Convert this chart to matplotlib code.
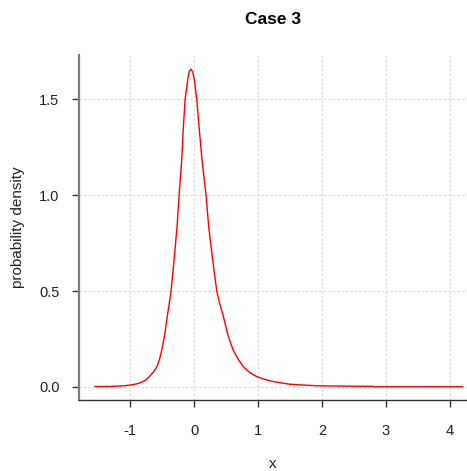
import matplotlib
matplotlib.use('Agg')
import matplotlib.pyplot as plt

# density curve
x_vals = [-1.55, -1.30, -1.10, -1.00, -0.90, -0.84, -0.76, -0.70, -0.64, -0.58,
          -0.54, -0.505, -0.46, -0.42, -0.39, -0.36, -0.313, -0.266, -0.234, -0.193,
          -0.167, -0.14, -0.099, -0.075, -0.047, -0.02, 0.005, 0.042, 0.078, 0.125,
          0.1875, 0.229, 0.292, 0.355, 0.40, 0.46, 0.53, 0.61, 0.69,
          0.77, 0.87, 0.98, 1.10, 1.24, 1.50, 1.92, 2.40, 2.80, 2.82,
          3.50, 4.20]
y_vals = [0.002, 0.003, 0.006, 0.010, 0.016, 0.022, 0.035, 0.054, 0.076, 0.106,
          0.145, 0.193, 0.27, 0.366, 0.43, 0.50, 0.661, 0.835, 1.0, 1.182,
          1.356, 1.50, 1.60, 1.645, 1.656, 1.64, 1.60, 1.50, 1.356, 1.182,
          1.0, 0.835, 0.661, 0.50, 0.435, 0.366, 0.27, 0.193, 0.145,
          0.106, 0.075, 0.054, 0.040, 0.028, 0.014, 0.006, 0.004, 0.003, 0.001,
          0.001, 0.001]

x_ticks = [-1, 0, 1, 2, 3, 4]
y_ticks = [0.0, 0.5, 1.0, 1.5]

plt.rcParams['font.family'] = ['Liberation Sans', 'DejaVu Sans']

fig = plt.figure(figsize=(4.67, 4.71), dpi=100)
ax = fig.add_axes([79/467, 1 - 400/471, 1 - 79/467, (400 - 55)/471])

ax.plot(x_vals, y_vals, color='red', linewidth=1.0)

ax.set_xlim(-1.80, 4.27)
ax.set_ylim(-0.068, 1.73)
ax.set_xticks(x_ticks)
ax.set_yticks(y_ticks)
ax.set_xticklabels([str(t) for t in x_ticks])
ax.set_yticklabels(['%.1f' % t for t in y_ticks])

ax.grid(True, color='#d9d9d9', linestyle=(0, (2, 2)), linewidth=0.8)
ax.set_axisbelow(True)

for s in ['top', 'right']:
    ax.spines[s].set_visible(False)
ax.spines['left'].set_color('#7f7f7f')
ax.spines['left'].set_linewidth(1.6)
ax.spines['bottom'].set_color('#333333')
ax.spines['bottom'].set_linewidth(1.0)

ax.tick_params(axis='x', length=5, width=1, color='#333333', pad=12,
               labelsize=10.5, labelcolor='#222222')
ax.tick_params(axis='y', length=5, width=1, color='#333333', pad=9,
               labelsize=10.5, labelcolor='#222222')

ax.set_xlabel('x', fontsize=11, color='#222222', labelpad=14)
ax.set_ylabel('probability density', fontsize=11, color='#222222', labelpad=10)
fig.suptitle('Case 3', fontsize=12.5, fontweight='bold', x=273/467, y=1 - 12/471,
             va='top')

fig.savefig('out.png', dpi=100)
